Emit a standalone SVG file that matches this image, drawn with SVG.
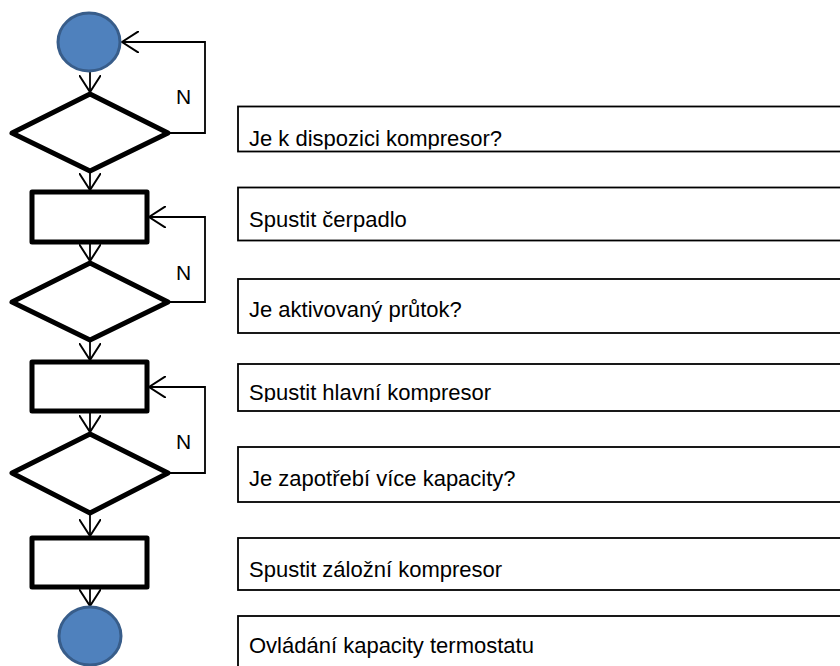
<svg xmlns="http://www.w3.org/2000/svg" width="840" height="666" viewBox="0 0 840 666">
<style>
.term{fill:#4F81BD;stroke:#385D8A;stroke-width:3}
.shape{fill:#fff;stroke:#000;stroke-width:5;stroke-linejoin:round}
.conn{fill:none;stroke:#000;stroke-width:1.8}
.lbl{fill:#fff;stroke:#000;stroke-width:1.8}
.t{font-family:"Liberation Sans",Arial,sans-serif;font-size:22px;fill:#000}
.n{font-family:"Liberation Sans",Arial,sans-serif;font-size:21px;fill:#000}
</style>
<defs>
<marker id="arr" viewBox="0 0 18 22" refX="17" refY="11" markerWidth="18" markerHeight="22" markerUnits="userSpaceOnUse" orient="auto">
<path d="M0,0 L17,11 L0,22" fill="none" stroke="#000" stroke-width="2"/>
</marker>
<clipPath id="c1"><rect x="238" y="107" width="610" height="42.5"/></clipPath>
<clipPath id="c4"><rect x="238" y="365" width="610" height="37"/></clipPath>
</defs>
<g id="connectors">
<line class="conn" x1="90" y1="72" x2="90" y2="92" marker-end="url(#arr)"/>
<line class="conn" x1="90" y1="172" x2="90" y2="190" marker-end="url(#arr)"/>
<line class="conn" x1="90" y1="243" x2="90" y2="261" marker-end="url(#arr)"/>
<line class="conn" x1="90" y1="341" x2="90" y2="360" marker-end="url(#arr)"/>
<line class="conn" x1="90" y1="412" x2="90" y2="432" marker-end="url(#arr)"/>
<line class="conn" x1="90" y1="514" x2="90" y2="536" marker-end="url(#arr)"/>
<line class="conn" x1="90" y1="588" x2="90" y2="606" marker-end="url(#arr)"/>
<polyline class="conn" points="168,133 205,133 205,42 122,42" marker-end="url(#arr)"/>
<polyline class="conn" points="168,302 205,302 205,217 149,217" marker-end="url(#arr)"/>
<polyline class="conn" points="168,473 205,473 205,387 149,387" marker-end="url(#arr)"/>
<text class="n" x="176" y="104">N</text>
<text class="n" x="176" y="280">N</text>
<text class="n" x="176" y="449">N</text>
</g>
<g id="start"><ellipse class="term" cx="89" cy="42" rx="31" ry="29"/></g>
<g id="dec1"><polygon class="shape" points="90,94 168,133 90,171 12,133"/></g>
<g id="proc1"><rect class="shape" x="32" y="192" width="115" height="50"/></g>
<g id="dec2"><polygon class="shape" points="90,263 168,302 90,340 12,302"/></g>
<g id="proc2"><rect class="shape" x="32" y="362" width="115" height="49"/></g>
<g id="dec3"><polygon class="shape" points="90,434 168,473 90,513 12,473"/></g>
<g id="proc3"><rect class="shape" x="32" y="538" width="115" height="49"/></g>
<g id="end"><ellipse class="term" cx="90" cy="636" rx="31" ry="29"/></g>
<g id="lbl1"><rect class="lbl" x="238" y="106.5" width="620" height="45"/><text class="t" x="249" y="145.5" clip-path="url(#c1)">Je k dispozici kompresor?</text></g>
<g id="lbl2"><rect class="lbl" x="238" y="187.5" width="620" height="53"/><text class="t" x="249" y="226.5">Spustit čerpadlo</text></g>
<g id="lbl3"><rect class="lbl" x="238" y="279" width="620" height="54"/><text class="t" x="249" y="316.5">Je aktivovaný průtok?</text></g>
<g id="lbl4"><rect class="lbl" x="238" y="364" width="620" height="47"/><text class="t" x="249" y="400" clip-path="url(#c4)">Spustit hlavní kompresor</text></g>
<g id="lbl5"><rect class="lbl" x="238" y="447" width="620" height="55"/><text class="t" x="249" y="486">Je zapotřebí více kapacity?</text></g>
<g id="lbl6"><rect class="lbl" x="238" y="538" width="620" height="52"/><text class="t" x="249" y="576.5">Spustit záložní kompresor</text></g>
<g id="lbl7"><rect class="lbl" x="238" y="616" width="620" height="80"/><text class="t" x="249" y="652.5">Ovládání kapacity termostatu</text></g>
</svg>
